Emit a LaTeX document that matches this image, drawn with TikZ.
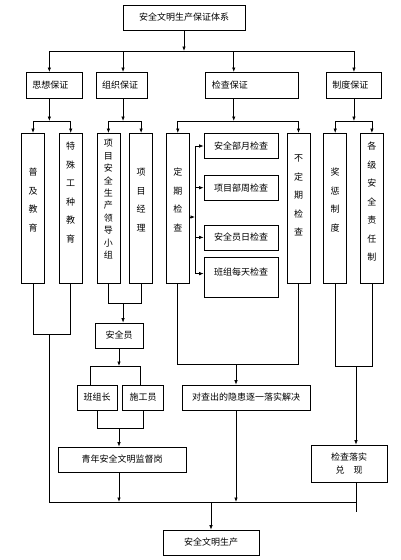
\documentclass[tikz,border=0pt]{standalone}
\usepackage{fontspec}
\newfontfamily\cjk{Noto Sans CJK SC}
\usetikzlibrary{arrows.meta, positioning, calc}
\tikzset{
  box/.style={draw, inner sep=0pt, align=center, font=\cjk\fontsize{9}{13}\selectfont},
  head/.style={box, text width=#1, inner xsep=6pt, align=left, minimum height=26pt},
  hbox/.style={box, minimum width=#1, minimum height=25pt},
  col/.style 2 args={box, text width=23pt, text height=#1, text depth=#2, font=\cjk\fontsize{9}{18.5}\selectfont},
  sub/.style={box, minimum width=74pt, minimum height=25pt},
  arr/.style={-{Latex[length=4.5pt, width=3.5pt]}},
}

\begin{document}
\begin{tikzpicture}[x=1pt, y=-1pt, line width=0.7pt]
        \useasboundingbox (0,0) rectangle (400,560);

        \node [box, minimum width=122pt, minimum height=25pt] (top) at (184,17.5) {安全文明生产保证体系};

        \node [head=44pt, anchor=north west] (sx) at (26,72) {思想保证};
        \node [head=39pt, right=13pt of sx] (zz) {组织保证};
        \node [head=81pt, right=58pt of zz] (jc) {检查保证};
        \node [head=43pt, right=27pt of jc] (zd) {制度保证};

        \node [col={42.5pt}{107.5pt}, anchor=north] (pj) at (33,133) {普\\及\\教\\育};
        \node [col={16.5pt}{133.5pt}, right=14pt of pj] (ts) {特\\殊\\工\\种\\教\\育};
        \node [col={13.5pt}{136.5pt}, font=\cjk\fontsize{9}{12.4}\selectfont, right=14pt of ts] (xm) {项\\目\\安\\全\\生\\产\\领\\导\\小\\组};
        \node [col={42.5pt}{107.5pt}, right=9pt of xm] (jl) {项\\目\\经\\理};
        \node [col={42.5pt}{107.5pt}, right=13pt of jl] (dq) {定\\期\\检\\查};
        \node [col={28.5pt}{121.5pt}, anchor=north] (bd) at (298.5,133) {不\\定\\期\\检\\查};
        \node [col={42.5pt}{107.5pt}, right=13pt of bd] (jz) {奖\\惩\\制\\度};
        \node [col={16.5pt}{133.5pt}, right=13pt of jz] (gj) {各\\级\\安\\全\\责\\任\\制};

        \node [sub] (yj) at (241,146) {安全部月检查};
        \node [sub, below=16pt of yj] (zj) {项目部周检查};
        \node [sub, below=24pt of zj] (rj) {安全员日检查};
        \node [sub, below=7pt of rj, text height=17.4pt, text depth=22.6pt] (bz) {班组每天检查};

        \node [hbox=48pt] (aqy) at (119,335.5) {安全员};
        \node [hbox=40pt] (bzz) at (97,397.5) {班组长};
        \node [hbox=41pt, right=5pt of bzz] (sgy) {施工员};
        \node [hbox=128pt] (dc) at (246,397.5) {对查出的隐患逐一落实解决};
        \node [hbox=128pt] (qn) at (122,459.5) {青年安全文明监督岗};
        \node [hbox=76pt, minimum height=37pt] (ls) at (349,463.5) {检查落实\\兑　现};
        \node [hbox=96pt] (aw) at (211,542.5) {安全文明生产};

        \coordinate (bus) at (0,51);
        \coordinate (lv3) at (0,121);
        \coordinate (bot) at (0,502);
        \coordinate (sxa) at ([xshift=-5pt]sx.north);
        \coordinate (zza) at ([xshift=1.5pt]zz.north);
        \coordinate (jca) at ([xshift=-18.5pt]jc.north);
        \coordinate (zda) at (zd.north);
        \coordinate (dca) at ([xshift=-10pt]dc.north);
        \coordinate (lsa) at ([xshift=7pt]ls.north);
        \coordinate (fk) at (195,217);
        \coordinate (bzt) at ([yshift=4pt]bz.west);

        \draw [arr] (top) -- (top |- bus);
        \draw (sxa |- bus) -- (zda |- bus);
        \foreach \x in {sxa, zza, jca, zda} \draw [arr] (\x |- bus) -- (\x);
        \foreach \x/\y in {sxa/sx, zza/zz, jca/jc, zda/zd} \draw [arr] (\x |- \y.south) -- (\x |- lv3);
        \foreach \x/\y in {pj/ts, xm/jl, dq/bd, jz/gj} {
          \draw (\x.north |- lv3) -- (\y.north |- lv3);
          \draw [arr] (\x.north |- lv3) -- (\x.north);
          \draw [arr] (\y.north |- lv3) -- (\y.north);
        }

        \draw [arr] (dq.east |- fk) -- (fk);
        \draw (fk |- yj) -- (fk |- bzt);
        \foreach \x in {yj, zj, rj, bzt} \draw [arr] (fk |- \x) -- (\x);

        \draw (pj.south) |- (ts.south |- 0,334) -- (ts.south);
        \draw (sxa |- 0,334) -- (sxa |- bot) -- (lsa |- bot);
        \draw (xm.south) |- (jl.south |- 0,303) -- (jl.south);
        \draw [arr] (zza |- 0,303) -- (zza |- aqy.north);
        \draw [arr] (aqy) -- (aqy.south |- 0,366);
        \draw ([xshift=-7pt]bzz.north) |- ([xshift=-2.5pt]sgy.north |- 0,366) -- ([xshift=-2.5pt]sgy.north);
        \draw (bzz.south) |- (sgy.south |- 0,428) -- (sgy.south);
        \draw [arr] (aqy.south |- 0,428) -- (aqy.south |- qn.north);
        \draw [arr] (aqy.south |- qn.south) -- (aqy.south |- bot);
        \draw (dq.south) |- (bd.south |- 0,364) -- (bd.south);
        \draw [arr] (dca |- 0,364) -- (dca);
        \draw [arr] (dca |- dc.south) -- (dca |- bot);
        \draw (jz.south) |- (gj.south |- 0,366) -- (gj.south);
        \draw [arr] (lsa |- 0,366) -- (lsa);
        \draw (lsa |- ls.south) -- (lsa |- 0,512);
        \draw [arr] (aw.north |- bot) -- (aw);
\end{tikzpicture}
\end{document}
